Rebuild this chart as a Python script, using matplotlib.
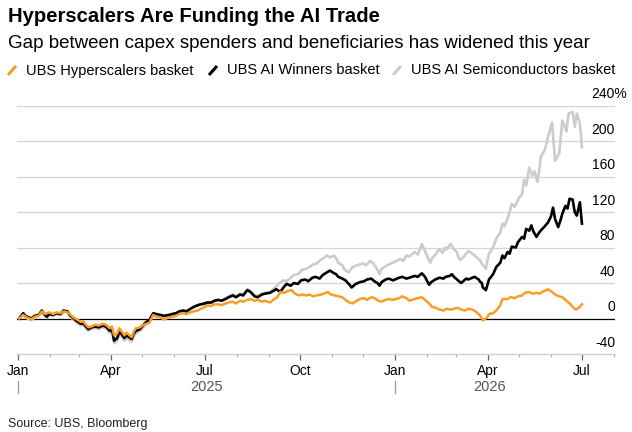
import pandas as pd
import matplotlib
matplotlib.use('Agg')
import matplotlib.pyplot as plt
import matplotlib.dates as mdates
import matplotlib.transforms as mtransforms
from matplotlib.lines import Line2D

plt.rcParams['font.family'] = ['Liberation Sans', 'DejaVu Sans']

# --- data: percent change since start of 2025 ---
# Jan-Aug 2025: all three baskets share the same dates
early_dates = [
    '2025-01-02', '2025-01-06', '2025-01-08', '2025-01-10', '2025-01-14', '2025-01-17', '2025-01-21',
    '2025-01-24', '2025-01-27', '2025-01-29', '2025-01-31',
    '2025-02-04', '2025-02-07', '2025-02-11', '2025-02-14', '2025-02-18', '2025-02-20', '2025-02-24', '2025-02-27',
    '2025-03-03', '2025-03-05', '2025-03-07', '2025-03-10', '2025-03-13', '2025-03-17', '2025-03-20',
    '2025-03-24', '2025-03-27', '2025-03-31',
    '2025-04-02', '2025-04-04', '2025-04-07', '2025-04-09', '2025-04-11', '2025-04-14', '2025-04-16',
    '2025-04-21', '2025-04-23', '2025-04-25', '2025-04-29',
    '2025-05-01', '2025-05-05', '2025-05-08', '2025-05-12', '2025-05-15', '2025-05-19', '2025-05-22',
    '2025-05-27', '2025-05-30',
    '2025-06-03', '2025-06-06', '2025-06-10', '2025-06-13', '2025-06-17', '2025-06-20', '2025-06-24', '2025-06-27',
    '2025-07-01', '2025-07-03', '2025-07-07', '2025-07-10', '2025-07-14', '2025-07-17', '2025-07-21',
    '2025-07-24', '2025-07-28', '2025-07-31', '2025-08-04', '2025-08-07', '2025-08-11', '2025-08-14',
    '2025-08-18', '2025-08-21', '2025-08-25', '2025-08-28']

hyper_early = [
    0, 4, 2, 1, -1, 2, 3, 8, 5, 6, 7,
    5, 7, 6, 8, 7, 5, 1, -1,
    -4, -3, -6, -10, -9, -7, -8, -6, -7, -11,
    -9, -19, -17, -11, -14, -19, -16, -21, -15, -11, -10,
    -8, -6, -5, 4, 2, 1, -1, 1, 2,
    3, 5, 6, 5, 7, 8, 9, 11,
    13, 15, 14, 16, 16, 15, 17, 18, 19, 17, 20, 19, 21, 22, 20, 21, 19, 20]
winners_early = [
    0, 6, 3, 2, 0, 3, 4, 9, 4, 2, 5,
    4, 6, 5, 9, 8, 4, 0, -3,
    -6, -5, -8, -12, -10, -9, -10, -8, -9, -14,
    -12, -25, -22, -15, -17, -22, -19, -23, -17, -14, -12,
    -9, -4, -2, 6, 5, 4, 3, 4, 5,
    6, 8, 9, 8, 11, 13, 15, 16,
    17, 18, 18, 20, 21, 20, 22, 24, 26, 24, 27, 26, 32, 30, 25, 24, 27, 28]
semis_early = [
    0, 5, 2, 0, -2, 1, 3, 8, 3, 1, 4,
    3, 5, 4, 8, 7, 3, -2, -5,
    -8, -7, -10, -14, -12, -11, -12, -10, -11, -16,
    -14, -28, -25, -18, -20, -25, -22, -26, -20, -17, -14,
    -12, -6, -4, 4, 3, 3, 2, 3, 4,
    5, 7, 9, 8, 11, 13, 15, 16,
    17, 18, 18, 20, 21, 20, 23, 25, 27, 25, 28, 27, 33, 31, 26, 25, 28, 29]

# Sep 2025 - Jul 2026
hyper_late_dates = [
    '2025-09-02', '2025-09-05', '2025-09-09', '2025-09-12', '2025-09-16', '2025-09-19', '2025-09-23', '2025-09-26', '2025-09-30',
    '2025-10-03', '2025-10-07', '2025-10-10', '2025-10-14', '2025-10-17', '2025-10-21', '2025-10-24', '2025-10-28', '2025-10-31',
    '2025-11-04', '2025-11-07', '2025-11-11', '2025-11-14', '2025-11-18', '2025-11-21', '2025-11-25', '2025-11-28',
    '2025-12-02', '2025-12-05', '2025-12-09', '2025-12-12', '2025-12-16', '2025-12-19', '2025-12-23', '2025-12-26', '2025-12-30',
    '2026-01-05', '2026-01-08', '2026-01-12', '2026-01-15', '2026-01-20', '2026-01-23', '2026-01-27', '2026-01-30',
    '2026-02-03', '2026-02-06', '2026-02-10', '2026-02-13', '2026-02-17', '2026-02-20', '2026-02-24', '2026-02-27',
    '2026-03-03', '2026-03-06', '2026-03-10', '2026-03-13', '2026-03-17', '2026-03-20', '2026-03-24', '2026-03-26', '2026-03-27', '2026-03-31',
    '2026-04-02', '2026-04-06', '2026-04-09', '2026-04-13', '2026-04-15', '2026-04-20', '2026-04-23', '2026-04-27', '2026-04-30',
    '2026-05-04', '2026-05-07', '2026-05-11', '2026-05-14', '2026-05-18', '2026-05-21', '2026-05-25', '2026-05-28', '2026-05-29',
    '2026-06-02', '2026-06-05', '2026-06-09', '2026-06-12', '2026-06-16', '2026-06-19', '2026-06-23', '2026-06-25', '2026-06-29', '2026-07-01']
hyper_late = [
    18, 21, 24, 30, 29, 31, 32, 28, 26,
    27, 26, 27, 25, 26, 27, 28, 30, 27,
    26, 25, 24, 21, 18, 17, 20, 22,
    23, 21, 24, 23, 20, 19, 21, 22, 21,
    23, 25, 23, 20, 22, 23, 24, 21,
    17, 13, 12, 10, 9, 11, 10, 11,
    12, 10, 9, 11, 10, 8, 4, 0, -2, 1,
    5, 6, 9, 15, 22, 22, 24, 23, 25,
    26, 29, 30, 28, 29, 28, 31, 32, 33,
    30, 27, 25, 24, 20, 17, 12, 10, 13, 16]

winners_late_dates = [
    '2025-09-02', '2025-09-05', '2025-09-08', '2025-09-12', '2025-09-15', '2025-09-18', '2025-09-22', '2025-09-25', '2025-09-29',
    '2025-10-02', '2025-10-06', '2025-10-09', '2025-10-13', '2025-10-16', '2025-10-20', '2025-10-23', '2025-10-27', '2025-10-30',
    '2025-11-03', '2025-11-05', '2025-11-07', '2025-11-11', '2025-11-14', '2025-11-18', '2025-11-20', '2025-11-24', '2025-11-28',
    '2025-12-02', '2025-12-05', '2025-12-09', '2025-12-12', '2025-12-15', '2025-12-17', '2025-12-19', '2025-12-23', '2025-12-26', '2025-12-30',
    '2026-01-05', '2026-01-08', '2026-01-12', '2026-01-15', '2026-01-20', '2026-01-23', '2026-01-27', '2026-01-30',
    '2026-02-03', '2026-02-05', '2026-02-09', '2026-02-13', '2026-02-17', '2026-02-19', '2026-02-23', '2026-02-25', '2026-02-27',
    '2026-03-02', '2026-03-04', '2026-03-06', '2026-03-09', '2026-03-11', '2026-03-13', '2026-03-17', '2026-03-19',
    '2026-03-23', '2026-03-24', '2026-03-26', '2026-03-27', '2026-03-30', '2026-03-31',
    '2026-04-02', '2026-04-06', '2026-04-09', '2026-04-13', '2026-04-15', '2026-04-17', '2026-04-20', '2026-04-22',
    '2026-04-24', '2026-04-28', '2026-04-30',
    '2026-05-04', '2026-05-06', '2026-05-08', '2026-05-11', '2026-05-13', '2026-05-15', '2026-05-18', '2026-05-20',
    '2026-05-22', '2026-05-26', '2026-05-29',
    '2026-06-01', '2026-06-03', '2026-06-05', '2026-06-08', '2026-06-10', '2026-06-12', '2026-06-15', '2026-06-17',
    '2026-06-19', '2026-06-22', '2026-06-24', '2026-06-26', '2026-06-29', '2026-07-01']
winners_late = [
    29, 31, 33, 30, 35, 39, 37, 40, 39,
    43, 44, 42, 46, 47, 45, 49, 52, 54,
    51, 50, 47, 45, 43, 38, 35, 39, 41,
    42, 44, 45, 42, 40, 37, 41, 44, 45, 43,
    46, 47, 45, 46, 48, 47, 51, 47,
    38, 41, 44, 46, 45, 47, 48, 50, 47,
    44, 42, 40, 43, 45, 44, 46, 47,
    44, 42, 40, 35, 32, 36,
    44, 50, 58, 63, 71, 68, 75, 73,
    81, 80, 86,
    92, 90, 101, 99, 105, 98, 92, 96,
    99, 104, 108,
    115, 125, 112, 103, 110, 118, 127, 124,
    135, 134, 120, 116, 131, 107]

semis_late_dates = [
    '2025-09-02', '2025-09-05', '2025-09-08', '2025-09-11', '2025-09-15', '2025-09-18', '2025-09-22', '2025-09-25', '2025-09-29',
    '2025-10-01', '2025-10-03', '2025-10-07', '2025-10-10', '2025-10-14', '2025-10-17', '2025-10-21', '2025-10-24', '2025-10-27', '2025-10-30',
    '2025-11-03', '2025-11-05', '2025-11-07', '2025-11-11', '2025-11-13', '2025-11-17', '2025-11-19', '2025-11-21', '2025-11-25',
    '2025-12-01', '2025-12-04', '2025-12-08', '2025-12-11', '2025-12-15', '2025-12-17', '2025-12-19', '2025-12-23', '2025-12-26', '2025-12-30',
    '2026-01-06', '2026-01-09', '2026-01-12', '2026-01-15', '2026-01-20', '2026-01-23', '2026-01-27', '2026-01-30',
    '2026-02-04', '2026-02-06', '2026-02-09', '2026-02-13', '2026-02-16', '2026-02-19', '2026-02-20', '2026-02-24', '2026-02-27',
    '2026-03-02', '2026-03-03', '2026-03-05', '2026-03-09', '2026-03-10', '2026-03-13', '2026-03-17', '2026-03-20',
    '2026-03-24', '2026-03-26', '2026-03-30', '2026-03-31',
    '2026-04-02', '2026-04-06', '2026-04-09', '2026-04-13', '2026-04-15', '2026-04-17', '2026-04-21', '2026-04-24', '2026-04-27',
    '2026-05-01', '2026-05-04', '2026-05-06', '2026-05-08', '2026-05-11', '2026-05-14', '2026-05-16', '2026-05-19',
    '2026-05-21', '2026-05-22', '2026-05-26', '2026-05-29',
    '2026-06-02', '2026-06-05', '2026-06-09', '2026-06-12', '2026-06-16', '2026-06-18', '2026-06-22', '2026-06-24',
    '2026-06-26', '2026-06-29', '2026-07-01']
semis_late = [
    30, 33, 36, 40, 43, 42, 46, 49, 50,
    52, 55, 56, 58, 61, 62, 66, 68, 71, 69,
    71, 68, 63, 60, 55, 52, 55, 58, 60,
    62, 60, 65, 62, 55, 50, 56, 59, 61, 63,
    67, 65, 71, 70, 75, 72, 84, 76,
    63, 68, 72, 78, 74, 80, 78, 84, 78,
    75, 70, 66, 70, 72, 76, 73, 70,
    66, 62, 56, 63,
    73, 80, 90, 97, 107, 104, 116, 129, 126,
    136, 140, 156, 150, 170, 161, 166, 154,
    170, 182, 190, 204,
    221, 178, 186, 223, 211, 231, 233, 216,
    231, 220, 193]

y_ticks = [-40, 0, 40, 80, 120, 160, 200, 240]
y_labels = ['-40', '0', '40', '80', '120', '160', '200', '240%']
x_tick_dates = ['2025-01-01', '2025-04-01', '2025-07-01', '2025-10-01',
                '2026-01-01', '2026-04-01', '2026-07-01']
x_tick_labels = ['Jan', 'Apr', 'Jul', 'Oct', 'Jan', 'Apr', 'Jul']

ORANGE = '#f99d25'
GRAY = '#cccccc'
W, H = 632, 432


def fx(px):
    return px / W


def fy(py):
    return 1 - py / H


fig = plt.figure(figsize=(6.32, 4.32), dpi=100)
ax = fig.add_axes([fx(17), fy(354), fx(615) - fx(17), fy(105.6) - fy(354)])

series = [
    (early_dates + semis_late_dates, semis_early + semis_late, GRAY, 1.9, 3),
    (early_dates + winners_late_dates, winners_early + winners_late, 'black', 1.9, 4),
    (early_dates + hyper_late_dates, hyper_early + hyper_late, ORANGE, 1.8, 5),
]
for d, v, col, lw, z in series:
    ax.plot(pd.to_datetime(d), v, color=col, lw=lw, solid_joinstyle='round', zorder=z)

ax.set_xlim(pd.Timestamp('2024-12-31'), pd.Timestamp('2026-08-02'))
ax.set_ylim(-40, 240)

for s in ['top', 'left', 'right']:
    ax.spines[s].set_visible(False)
ax.spines['bottom'].set_color('#d0d0d0')
ax.spines['bottom'].set_linewidth(1.0)

for v in y_ticks[2:]:
    ax.axhline(v, color='#d5d5d5', lw=0.9, zorder=1)
ax.axhline(0, color='black', lw=0.9, zorder=2)

ax.set_yticks([])
trans = mtransforms.blended_transform_factory(ax.transAxes, ax.transData)
for v, lab in zip(y_ticks, y_labels):
    dx = 9 if lab.endswith('%') else 0
    ax.text(1.0, v, lab, transform=trans + mtransforms.ScaledTranslation(dx / 72, 3 / 72, fig.dpi_scale_trans),
            ha='right', va='bottom', fontsize=10, color='black')

ax.set_xticks(pd.to_datetime(x_tick_dates))
ax.set_xticklabels(x_tick_labels, fontsize=10)
ax.xaxis.set_minor_locator(mdates.MonthLocator())
ax.tick_params(axis='x', which='major', length=4.5, width=0.9, color='#666666', pad=3)
ax.tick_params(axis='x', which='minor', length=2.5, width=0.8, color='#aaaaaa')

# year labels and separators
xtrans = mtransforms.blended_transform_factory(ax.transData, fig.transFigure)
for d, yr in [('2025-07-03', '2025'), ('2026-04-03', '2026')]:
    ax.text(mdates.date2num(pd.Timestamp(d)), fy(387), yr, transform=xtrans,
            ha='center', va='center', fontsize=10.5, color='#555555')
for d in ['2025-01-01', '2026-01-01']:
    fig.add_artist(Line2D([mdates.date2num(pd.Timestamp(d))] * 2, [fy(381), fy(393)],
                          transform=xtrans, color='#999999', lw=0.9))

# title, subtitle
fig.text(fx(8), fy(17), 'Hyperscalers Are Funding the AI Trade', fontsize=14.6,
         fontweight='bold', ha='left', va='center')
fig.text(fx(8), fy(43), 'Gap between capex spenders and beneficiaries has widened this year',
         fontsize=13.5, ha='left', va='center')

# legend
legend_items = [(8, ORANGE, 'UBS Hyperscalers basket'),
                (209, 'black', 'UBS AI Winners basket'),
                (393, GRAY, 'UBS AI Semiconductors basket')]
for x0, col, lab in legend_items:
    fig.add_artist(Line2D([fx(x0), fx(x0 + 8)], [fy(75), fy(66)], color=col, lw=2.2,
                          solid_capstyle='butt'))
    fig.text(fx(x0 + 18), fy(70.5), lab, fontsize=10.5, ha='left', va='center')

fig.text(fx(8), fy(424), 'Source: UBS, Bloomberg', fontsize=9, ha='left', va='center', color='#222222')

fig.savefig('out.png', dpi=100)
